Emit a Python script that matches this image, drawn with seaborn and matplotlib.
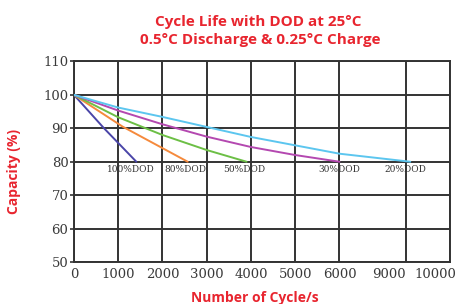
import matplotlib
matplotlib.use("Agg")
import matplotlib.pyplot as plt
import matplotlib.transforms as mtransforms
import numpy as np
import pandas as pd
import seaborn as sns

# capacity curves, one per depth of discharge
dod_labels = ["100%DOD", "80%DOD", "50%DOD", "30%DOD", "20%DOD"]
cycles_100 = [0, 680, 1410]
cap_100 = [100, 90, 80]
cycles_80 = [0, 1100, 2570]
cap_80 = [100, 90.5, 80]
cycles_50 = [0, 1000, 2000, 3000, 3900]
cap_50 = [100, 93.3, 88.0, 83.5, 80]
cycles_30 = [0, 1000, 2000, 3000, 4000, 5000, 6000]
cap_30 = [100, 95.3, 91.2, 87.5, 84.4, 82.0, 80]
cycles_20 = [0, 1000, 2000, 3000, 4000, 5000, 6000, 9100]
cap_20 = [100, 96.2, 93.4, 90.4, 87.4, 84.9, 82.4, 80]

x_ticks = [0, 1000, 2000, 3000, 4000, 5000, 6000, 9000, 10000]
y_ticks = [50, 60, 70, 80, 90, 100, 110]

# layout only: where the DOD tags and the shifted tick labels sit
tag_x = [1280, 2520, 3850, 6000, 9000]
tick_shift_px = {9000: -17, 10000: -15}

line_colors = ["#4a45a8", "#f58a3c", "#6cbf45", "#b448b0", "#5cc6ef"]
red = "#e8252f"
grid_color = "#333333"

# the x axis in the source is not linear: 6000 -> 9000 is squeezed
scale_in = [0, 6000, 9000, 10000]
scale_out = [0, 6, 7.5, 8.5]


def _forward(x):
    return np.interp(x, scale_in, scale_out)


def _inverse(p):
    return np.interp(p, scale_out, scale_in)


def build_frame() -> pd.DataFrame:
    series = [
        (cycles_100, cap_100),
        (cycles_80, cap_80),
        (cycles_50, cap_50),
        (cycles_30, cap_30),
        (cycles_20, cap_20),
    ]
    frames = []
    for label, (xs, ys) in zip(dod_labels, series):
        frames.append(pd.DataFrame({"cycles": xs, "capacity": ys, "dod": label}))
    return pd.concat(frames, ignore_index=True)


def main() -> None:
    sns.set_theme(style="white")
    df = build_frame()

    fig = plt.figure(figsize=(4.65, 3.04), dpi=100)
    ax = fig.add_axes([0.159, 0.138, 0.809, 0.66])
    ax.set_xscale("function", functions=(_forward, _inverse))

    sns.lineplot(
        data=df,
        x="cycles",
        y="capacity",
        hue="dod",
        palette=line_colors,
        sort=False,
        linewidth=1.4,
        legend=False,
        ax=ax,
        zorder=3,
    )

    ax.set_xlim(0, 10000)
    ax.set_ylim(50, 110)
    ax.set_xticks(x_ticks)
    ax.set_xticklabels([str(t) for t in x_ticks])
    ax.set_yticks(y_ticks)
    ax.grid(True, color=grid_color, linewidth=1.4, zorder=1)
    for spine in ax.spines.values():
        spine.set_color(grid_color)
        spine.set_linewidth(1.4)

    ax.tick_params(axis="x", length=0, pad=4, labelsize=9.5, labelcolor="#3a3a3a")
    ax.tick_params(axis="y", length=3, width=1.2, color=grid_color, pad=1,
                   left=True, labelsize=9.5, labelcolor="#3a3a3a")
    for lab in ax.get_xticklabels() + ax.get_yticklabels():
        lab.set_family("DejaVu Serif")

    # the last two x labels sit left of their grid lines in the source
    for tick, value in zip(ax.xaxis.get_major_ticks(), x_ticks):
        if value in tick_shift_px:
            offset = mtransforms.ScaledTranslation(tick_shift_px[value] / 100, 0,
                                                   fig.dpi_scale_trans)
            tick.label1.set_transform(tick.label1.get_transform() + offset)

    # DOD tags sit just under the 80% line at the end of each curve
    for label, x in zip(dod_labels, tag_x):
        ax.text(x, 77.6, label, ha="center", va="center", fontsize=6.5,
                family="DejaVu Serif", color="#333333", zorder=4)

    ax.set_xlabel("Number of Cycle/s", color=red, fontsize=10, fontweight="bold",
                  family="Open Sans")
    ax.set_ylabel("Capacity (%)", color=red, fontsize=10, fontweight="bold",
                  family="Open Sans")
    ax.xaxis.set_label_coords(0.48, -0.145)
    ax.yaxis.set_label_coords(-0.14, 0.45)

    fig.text(0.555, 0.927, "Cycle Life with DOD at 25°C", color=red, fontsize=11,
             fontweight="bold", family="Open Sans", ha="center", va="center")
    fig.text(0.559, 0.868, "0.5°C Discharge & 0.25°C Charge", color=red, fontsize=11,
             fontweight="bold", family="Open Sans", ha="center", va="center")

    fig.savefig("out.png", dpi=100)
    plt.close(fig)


if __name__ == "__main__":
    main()
